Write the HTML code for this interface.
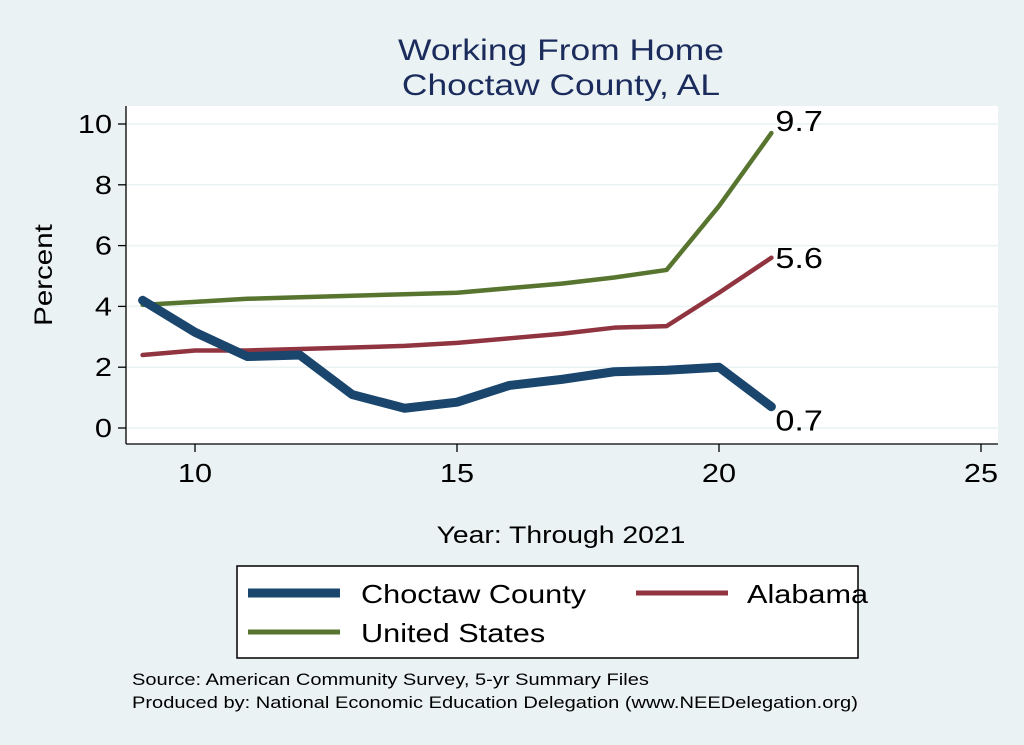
<!DOCTYPE html>
<html><head><meta charset="utf-8"><style>
body{margin:0;background:#eaf2f3;}
svg{display:block;font-family:"Liberation Sans",sans-serif;}
</style></head><body>
<svg id="chart" width="1024" height="745">
<rect x="0" y="0" width="1024" height="745" fill="#eaf2f3"/>
<text x="561" y="60" font-size="30" fill="#1a2b5c" text-anchor="middle">Working From Home</text>
<text x="561" y="95" font-size="30" fill="#1a2b5c" text-anchor="middle">Choctaw County, AL</text>
<rect x="126" y="106" width="872" height="338" fill="#fff"/>
<g id="grid"></g><g id="axes"></g><g id="series"></g>
<text x="52" y="275" font-size="25" fill="#000" text-anchor="middle" transform="rotate(-90 52 275)">Percent</text>
<text x="561" y="543" font-size="24" fill="#000" text-anchor="middle">Year: Through 2021</text>
<g>
<rect x="237" y="566" width="621" height="92" fill="#fff" stroke="#000" stroke-width="1.5"/>
<line x1="248" y1="593" x2="340" y2="593" stroke="#1a466e" stroke-width="9"/>
<text x="361" y="603" font-size="26">Choctaw County</text>
<line x1="636" y1="593" x2="728" y2="593" stroke="#903540" stroke-width="5"/>
<text x="747" y="603" font-size="26">Alabama</text>
<line x1="248" y1="632" x2="340" y2="632" stroke="#587530" stroke-width="5"/>
<text x="361" y="642" font-size="26">United States</text>
</g>
<text x="132" y="685" font-size="17">Source: American Community Survey, 5-yr Summary Files</text>
<text x="132" y="708" font-size="17">Produced by: National Economic Education Delegation (www.NEEDelegation.org)</text>
</svg>
<script>
const years=[9,10,11,12,13,14,15,16,17,18,19,20,21];
const choctaw=[4.2,3.15,2.35,2.4,1.1,0.65,0.85,1.4,1.6,1.85,1.9,2.0,0.7];
const alabama=[2.4,2.55,2.55,2.6,2.65,2.7,2.8,2.95,3.1,3.3,3.35,4.45,5.6];
const us=[4.05,4.15,4.25,4.3,4.35,4.4,4.45,4.6,4.75,4.95,5.2,7.3,9.7];
const yTicks=[0,2,4,6,8,10];
const xTicks=[10,15,20,25];
const NS="http://www.w3.org/2000/svg";
function xs(v){return 195+(v-10)*52.4;}
function ys(v){return 428-v*30.4;}
function mk(tag,attrs,parent){const e=document.createElementNS(NS,tag);for(const k in attrs)e.setAttribute(k,attrs[k]);parent.appendChild(e);return e;}
const grid=document.getElementById('grid'),axes=document.getElementById('axes'),ser=document.getElementById('series');
yTicks.forEach(t=>{
 const g=mk('line',{x1:127,x2:998,y1:ys(t),y2:ys(t),stroke:'#eaf2f3','stroke-width':1.5},grid);
 
 
 const tk=mk('line',{x1:118,x2:126,y1:ys(t),y2:ys(t),stroke:'#000','stroke-width':1.3},axes);
 
 
 const lb=mk('text',{x:112,y:ys(t)+9,'font-size':26,'text-anchor':'end'},axes);lb.textContent=t;
 
 
});
xTicks.forEach(t=>{
 const tk=mk('line',{x1:xs(t),x2:xs(t),y1:444,y2:452,stroke:'#000','stroke-width':1.3},axes);
 
 
 const lb=mk('text',{x:xs(t),y:482,'font-size':26,'text-anchor':'middle'},axes);lb.textContent=t;
 
 
});
const ya=mk('line',{x1:126,x2:126,y1:106,y2:444,stroke:'#000','stroke-width':1.3},axes);


const xa=mk('line',{x1:126,x2:998,y1:444,y2:444,stroke:'#000','stroke-width':1.3},axes);


function line(vals,color,w,name,lblDy){
 const p=mk('polyline',{points:years.map((y,i)=>xs(y)+','+ys(vals[i])).join(' '),fill:'none',stroke:color,'stroke-width':w,'stroke-linejoin':'round','stroke-linecap':'round'},ser);
 
 
 const n=vals.length-1;
 const t=mk('text',{x:xs(years[n])+4,y:ys(vals[n])+lblDy,'font-size':29},ser);t.textContent=vals[n].toFixed(1);
 
 
}
line(us,'#587530',4.5,'us',-2);
line(alabama,'#903540',4.5,'alabama',10);
line(choctaw,'#1a466e',9,'choctaw',24);
document.querySelectorAll('text').forEach(t=>{
 const L=t.getComputedTextLength();
 t.setAttribute('textLength',(L*1.18).toFixed(1));
 t.setAttribute('lengthAdjust','spacingAndGlyphs');
});
</script>
</body></html>
